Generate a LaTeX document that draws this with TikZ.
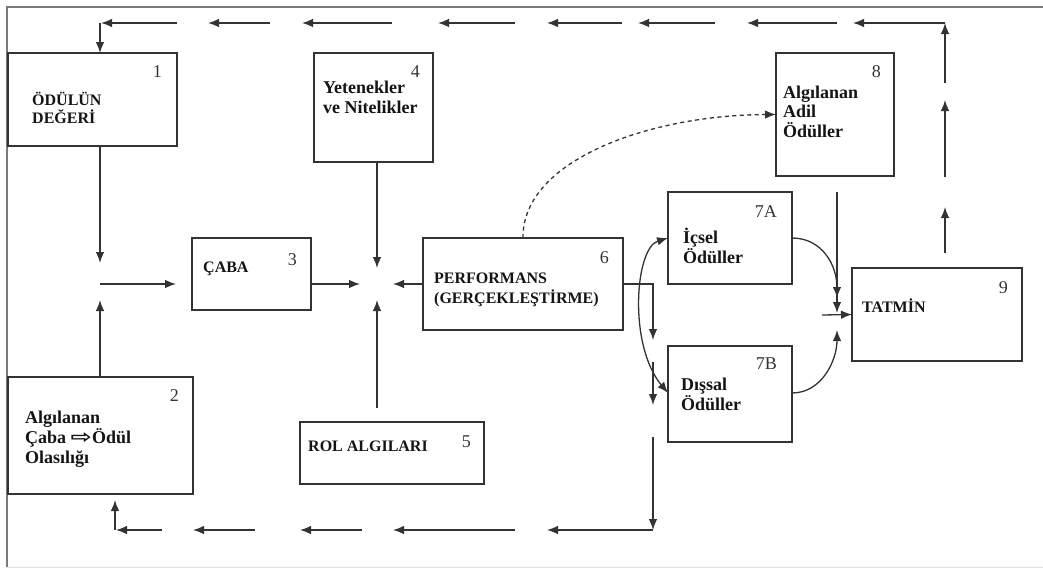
\documentclass[tikz,border=0pt]{standalone}
\usepackage{fontspec}
\usepackage{graphicx}
\setmainfont{Liberation Serif}
\newfontfamily\arrowfont{DejaVu Sans}
\usetikzlibrary{arrows.meta,positioning}
\definecolor{vrLine}{HTML}{333333}
\definecolor{vrFrame}{HTML}{7A7A7A}
\definecolor{vrText}{HTML}{141414}
\definecolor{vrNum}{HTML}{333333}
\newcommand{\hollowarr}{\scalebox{1.5}[1.1]{\arrowfont\fontsize{17}{17}\selectfont ⇨}}
\tikzset{
  modelbox/.style={rectangle,draw=vrLine,line width=1.4pt,anchor=north west,
    inner sep=0pt,outer sep=0pt},
  boxtext/.style={anchor=base west,inner sep=0pt,align=left,text=vrText,
    font=\fontsize{18}{19.5}\selectfont\bfseries},
  capstext/.style={boxtext,font=\fontsize{16}{19}\selectfont\bfseries},
  numtag/.style={anchor=base east,inner sep=0pt,text=vrNum,
    font=\fontsize{18}{18}\selectfont},
  flowarrow/.style={-{Latex[length=11pt,width=8.5pt]},line width=1.3pt,draw=vrLine},
  flowdashed/.style={flowarrow,dash pattern=on 4pt off 3.5pt}
}
\begin{document}
\begin{tikzpicture}[x=1pt,y=-1pt]
  \useasboundingbox (0,0) rectangle (1043,568);
  % frame
  \draw[vrFrame,line width=2pt] (1043,7) -- (7,7) -- (7,567);
  \draw[black!12,line width=1pt] (7,567) -- (1043,567);
  % boxes
  \node[modelbox,minimum width=169pt,minimum height=93pt] (b1) at (8,53) {};
  \node[modelbox,minimum width=185pt,minimum height=117pt] (b2) at (8,377) {};
  \node[modelbox,minimum width=119pt,minimum height=72pt] (b3) at (192,238) {};
  \node[modelbox,minimum width=119pt,minimum height=109pt] (b4) at (314,53) {};
  \node[modelbox,minimum width=184pt,minimum height=62pt] (b5) at (300,422) {};
  \node[modelbox,minimum width=200pt,minimum height=92pt] (b6) at (423,238) {};
  \node[modelbox,minimum width=124pt,minimum height=92pt] (b7a) at (668,192) {};
  \node[modelbox,minimum width=124pt,minimum height=96pt] (b7b) at (668,346) {};
  \node[modelbox,minimum width=118pt,minimum height=123pt] (b8) at (776,53) {};
  \node[modelbox,minimum width=170pt,minimum height=93pt] (b9) at (852,268) {};
  % texts (placed at the baseline of their last line)
  \node[capstext,font=\fontsize{16}{18}\selectfont\bfseries] (t1) at (32,123) {ÖDÜLÜN\\DEĞERİ};
  \node[boxtext,font=\fontsize{18}{20}\selectfont\bfseries] (t2) at (25,463) {Algılanan\\Çaba \hollowarr Ödül\\Olasılığı};
  \node[capstext] (t3) at (203,272) {ÇABA};
  \node[boxtext] (t4) at (323,113) {Yetenekler\\ve Nitelikler};
  \node[capstext] (t5) at (308,451) {ROL ALGILARI};
  \node[capstext,font=\fontsize{16}{20}\selectfont\bfseries] (t6) at (434,303) {PERFORMANS\\(GERÇEKLEŞTİRME)};
  \node[boxtext,font=\fontsize{18}{20}\selectfont\bfseries] (t7a) at (683,263) {İçsel\\Ödüller};
  \node[boxtext,font=\fontsize{18}{18}\selectfont\bfseries] (t7b) at (681,410) {Dışsal\\Ödüller};
  \node[boxtext] (t8) at (783,137) {Algılanan\\Adil\\Ödüller};
  \node[capstext] (t9) at (862,312) {TATMİN};
  % numbers
  \node[numtag] (n1) at ([shift={(-15,24)}]b1.north east) {1};
  \node[numtag] (n2) at ([shift={(-14,24)}]b2.north east) {2};
  \node[numtag] (n3) at ([shift={(-14,27)}]b3.north east) {3};
  \node[numtag] (n4) at ([shift={(-13,24)}]b4.north east) {4};
  \node[numtag] (n5) at ([shift={(-13,25)}]b5.north east) {5};
  \node[numtag] (n6) at ([shift={(-14,25)}]b6.north east) {6};
  \node[numtag] (n7a) at ([shift={(-15,25)}]b7a.north east) {7A};
  \node[numtag] (n7b) at ([shift={(-15,23)}]b7b.north east) {7B};
  \node[numtag] (n8) at ([shift={(-13,24)}]b8.north east) {8};
  \node[numtag] (n9) at ([shift={(-14,25)}]b9.north east) {9};
  % meeting points
  \coordinate (effort) at (100,284);
  \coordinate (perf) at (377,284);
  \coordinate (sat) at (837,315);
  % feedback loop, top and right
  \foreach \xa/\xb in {945/853,837/747,715/638,622/547,515/438,392/302,270/208,177/101}
    \draw[flowarrow] (\xa,23) -- (\xb,23);
  \foreach \ya/\yb in {253/207,177/100,83/23}
    \draw[flowarrow] (945,\ya) -- (945,\yb);
  \draw[flowarrow] (100,23) -- (100,23 |- b1.north);
  % feedback loop, bottom
  \draw[flowarrow] (b6.east) -- (653,284) -- (653,340);
  \foreach \ya/\yb in {362/405,437/530}
    \draw[flowarrow] (653,\ya) -- (653,\yb);
  \foreach \xa/\xb in {653/547,515/393,362/300,255/193,162/116}
    \draw[flowarrow] (\xa,530) -- (\xb,530);
  \draw[flowarrow] (115,530) -- (115,500);
  % into effort
  \draw[flowarrow] (100,0 |- b1.south) -- ([yshift=21pt]effort);
  \draw[flowarrow] (100,0 |- b2.north) -- ([yshift=-16pt]effort);
  \draw[flowarrow] (effort) -- ([xshift=-16pt]effort -| b3.west);
  % into performance
  \draw[flowarrow] (311,284) -- ([xshift=-17pt]perf);
  \draw[flowarrow] (b6.west) -- ([xshift=16pt]perf);
  \draw[flowarrow] (377,0 |- b4.south) -- ([yshift=16pt]perf);
  \draw[flowarrow] (377,408) -- ([yshift=-16pt]perf);
  % rewards
  \draw[flowarrow,{Latex[length=11pt,width=8.5pt]}-{Latex[length=11pt,width=8.5pt]}]
    (b7a.west) .. controls (635,248) and (628,345) .. (668,393);
  \draw[flowdashed] (b6.north) .. controls (522,160) and (650,115) .. (b8.west);
  % into satisfaction
  \draw[flowarrow] (b7a.east) .. controls (822,238) and (837,265) .. ([yshift=17pt]sat);
  \draw[flowarrow] (792,393) .. controls (822,393) and (837,360) .. ([yshift=-15pt]sat);
  \draw[flowarrow] (837,0 |- b8.south) ++(0,16) -- ([yshift=2pt]sat);
  \draw[flowarrow] ([xshift=-15pt]sat) -- (b9.west);
\end{tikzpicture}
\end{document}
